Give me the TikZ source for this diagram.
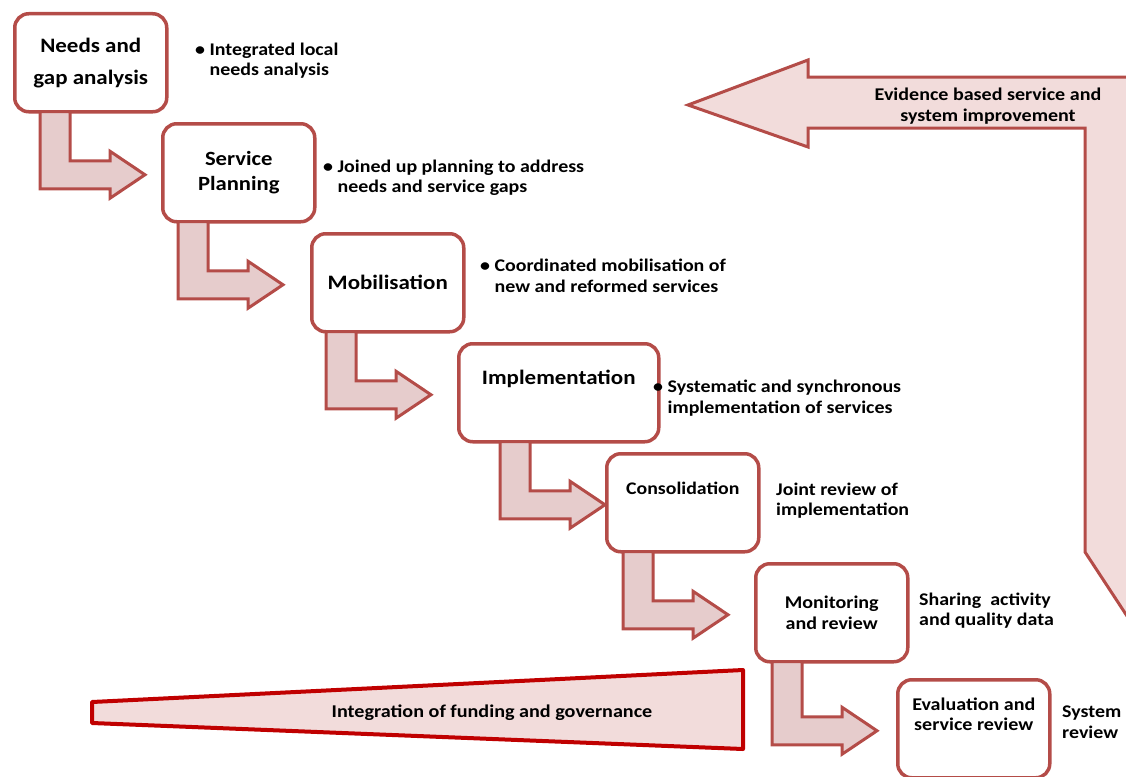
\documentclass[tikz,border=0pt]{standalone}
\usepackage{fontspec}
\setmainfont{Carlito}[FakeStretch=1.12]
\usetikzlibrary{calc}

\definecolor{boxred}{RGB}{180,76,72}
\definecolor{arrowpink}{RGB}{230,204,204}
\definecolor{palepink}{RGB}{242,220,219}
\definecolor{wedgered}{RGB}{192,0,0}

% bent arrow from the bottom of one stage to the side of the next
% #1 from, #2 to, #3 shaft offset from the left side of #1
\newcommand{\bentarrow}[3]{%
  \path[bent] let \p1=($(#1.south west)+(#3,0)$), \p2=(#2.west) in
    (\x1,\y1+2) -- (\x1+30,\y1+2) -- (\x1+30,\y2+12) -- (\x1+70,\y2+12)
    -- (\x1+70,\y2+21.5) -- (\x1+105,\y2-2) -- (\x1+70,\y2-25.5)
    -- (\x1+70,\y2-16) -- (\x1,\y2-16) -- cycle;}

\begin{document}
\begin{tikzpicture}[x=1pt, y=-1pt,
    stage/.style={draw=boxred, line width=3.5pt, fill=white, rounded corners=14pt,
      minimum width=152pt, minimum height=98pt, anchor=north west, align=center,
      font=\bfseries\fontsize{17.9}{21}\selectfont},
    note/.style={anchor=west, align=left, inner sep=0pt,
      font=\bfseries\fontsize{17.8}{20.5}\selectfont},
    bent/.style={draw=boxred, fill=arrowpink, line width=3pt},
    bigarrow/.style={draw=boxred, fill=palepink, line width=3pt},
    wedge/.style={draw=wedgered, fill=palepink, line width=4pt, line join=round}]
  \useasboundingbox (0,0) rectangle (1126,776);
  \clip (0,0) rectangle (1126,776);

  % feedback arrow and funding wedge
  \path[bigarrow] (688,105) -- (808,60) -- (808,77) -- (1190,77) -- (1190,552)
    -- (1137.5,632) -- (1085,552) -- (1085,128) -- (808,128) -- (808,147) -- cycle;
  \node[align=center, font=\bfseries\fontsize{17.9}{21}\selectfont] (evidence) at (988,106.5)
    {Evidence based service and\\system improvement};
  \path[wedge] (92,702) -- (743,670) -- (743,749) -- (92,723) -- cycle;
  \node[font=\bfseries\fontsize{18}{21}\selectfont] (funding) at (492,713)
    {Integration of funding and governance};

  % stages
  \node[stage, font=\bfseries\fontsize{20.5}{32}\selectfont] (needs) at (13,12) {Needs and\\gap analysis};
  \node[stage, font=\bfseries\fontsize{20.2}{25}\selectfont] (planning) at (161,122) {Service\\Planning};
  \node[stage, font=\bfseries\fontsize{20.5}{25}\selectfont] (mobil) at (310,232) {Mobilisation};
  \node[stage, minimum width=200pt,
    label={[yshift=14pt, font=\bfseries\fontsize{20.5}{24}\selectfont]center:Implementation}] (impl) at (457,342) {};
  \node[stage, label={[yshift=14pt, font=\bfseries\fontsize{17.7}{21}\selectfont]center:Consolidation}] (consol) at (605,452) {};
  \node[stage] (monit) at (754,562) {Monitoring\\and review};
  \node[stage, label={[yshift=14pt, align=center, font=\bfseries\fontsize{17.9}{20}\selectfont]center:Evaluation and\\service review}] (eval) at (896,678) {};

  % arrows between stages
  \bentarrow{needs}{planning}{27}
  \bentarrow{planning}{mobil}{17}
  \bentarrow{mobil}{impl}{16}
  \bentarrow{impl}{consol}{43}
  \bentarrow{consol}{monit}{18}
  \bentarrow{monit}{eval}{18}

  % notes beside the stages
  \node[note] (needsnote) at (195,60.5) {\textbullet\ Integrated local\\\phantom{\textbullet\ }needs analysis};
  \node[note] (plannote) at (323,178) {\textbullet\ Joined up planning to address\\\phantom{\textbullet\ }needs and service gaps};
  \node[note] (mobilnote) at (480,276) {\textbullet\ Coordinated mobilisation of\\\phantom{\textbullet\ }new and reformed services};
  \node[note] (implnote) at (653,398) {\textbullet\ Systematic and synchronous\\\phantom{\textbullet\ }implementation of services};
  \node[note] (consolnote) at (776,500.5) {Joint review of\\implementation};
  \node[note] (monitnote) at (919,610.5) {Sharing\ \ activity\\and quality data};
  \node[note] (evalnote) at (1062,722) {System\\review};
\end{tikzpicture}
\end{document}
